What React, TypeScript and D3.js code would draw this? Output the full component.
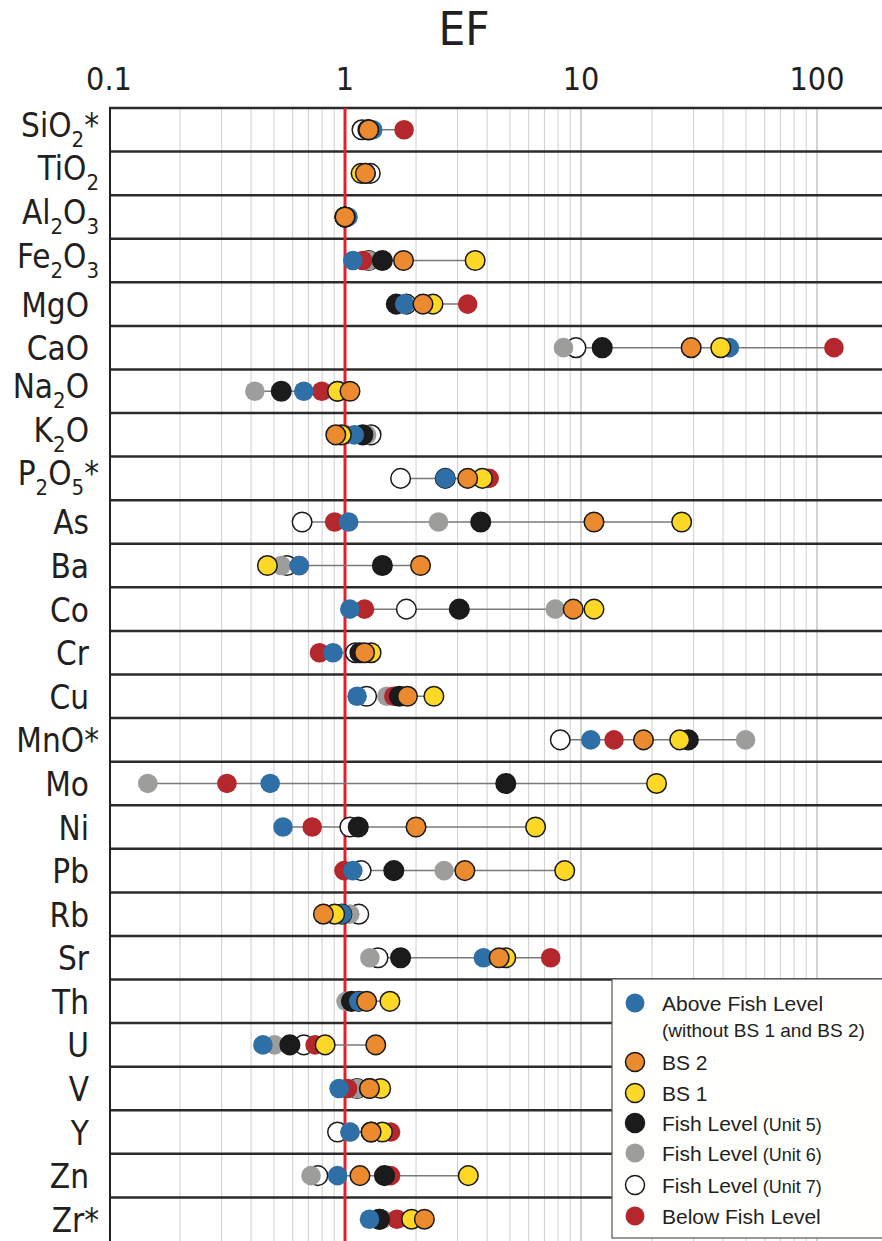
import React, { useEffect, useRef } from 'react'
import * as d3 from 'd3'

// row labels, "_" marks a subscript digit
const elements = ['SiO_2*', 'TiO_2', 'Al_2O_3', 'Fe_2O_3', 'MgO', 'CaO', 'Na_2O', 'K_2O', 'P_2O_5*', 'As', 'Ba', 'Co', 'Cr', 'Cu', 'MnO*', 'Mo', 'Ni', 'Pb', 'Rb', 'Sr', 'Th', 'U', 'V', 'Y', 'Zn', 'Zr*']

const tickLabels = [0.1, 1, 10, 100]

// EF values per group, same order as elements (null = not shown)
const aboveFish = [1.31, 1.22, 1.03, 1.08, 1.79, 42.5, 0.669, 1.095, 2.66, 1.036, 0.64, 1.048, 0.89, 1.125, 11.0, 0.482, 0.546, 1.08, 0.97, 3.86, 1.144, 0.449, 0.944, 1.05, 0.93, 1.27]
const bs2 = [1.26, 1.22, 1.0, 1.77, 2.14, 29.3, 1.05, 0.914, 3.31, 11.35, 2.09, 9.27, 1.21, 1.84, 18.4, null, 2.0, 3.22, 0.81, 4.5, 1.235, 1.35, 1.27, 1.29, 1.157, 2.17]
const bs1 = [1.25, 1.17, 1.0, 3.56, 2.36, 39.1, 0.93, 0.965, 3.82, 26.7, 0.469, 11.35, 1.29, 2.38, 26.2, 20.9, 6.42, 8.53, 0.904, 4.8, 1.55, 0.824, 1.417, 1.44, 3.33, 1.915]
const unit5 = [1.26, 1.22, 1.0, 1.44, 1.65, 12.3, 0.537, 1.19, 2.66, 3.76, 1.44, 3.05, 1.157, 1.7, 28.5, 4.8, 1.138, 1.61, 0.97, 1.72, 1.065, 0.584, 1.27, 1.29, 1.47, 1.4]
const unit6 = [1.26, 1.22, 1.0, 1.26, 1.79, 8.43, 0.415, 1.235, 2.66, 2.49, 0.537, 7.78, 1.21, 1.505, 49.8, 0.146, 1.138, 2.63, 1.048, 1.275, 1.01, 0.503, 1.125, 1.05, 0.718, 1.44]
const unit7 = [1.18, 1.28, 1.0, 1.26, 1.82, 9.52, 0.93, 1.29, 1.72, 0.658, 0.567, 1.82, 1.107, 1.235, 8.17, null, 1.048, 1.17, 1.144, 1.38, 1.144, 0.669, 1.125, 0.93, 0.767, 1.4]
const belowFish = [1.78, 1.22, 1.0, 1.19, 3.31, 118, 0.797, 1.0, 4.08, 0.904, 0.64, 1.21, 0.78, 1.61, 13.8, 0.316, 0.726, 0.99, 0.95, 7.44, 1.1, 0.747, 1.026, 1.56, 1.56, 1.66]

// drawing order bottom -> top
const series = [
     { key: 'unit7', values: unit7, fill: '#ffffff', stroke: '#1a1a1a' },
     { key: 'unit6', values: unit6, fill: '#9d9d9b', stroke: 'none' },
     { key: 'below', values: belowFish, fill: '#b3272d', stroke: 'none' },
     { key: 'unit5', values: unit5, fill: '#1b1b1b', stroke: '#1a1a1a' },
     { key: 'above', values: aboveFish, fill: '#2f6fa7', stroke: 'none' },
     { key: 'bs1', values: bs1, fill: '#fdd827', stroke: '#1a1a1a' },
     { key: 'bs2', values: bs2, fill: '#ec8a2f', stroke: '#1a1a1a' },
]

const legendItems = [
     { main: 'Above Fish Level', sub: '', fill: '#2f6fa7', stroke: 'none' },
     { main: 'BS 2', sub: '', fill: '#ec8a2f', stroke: '#1a1a1a' },
     { main: 'BS 1', sub: '', fill: '#fdd827', stroke: '#1a1a1a' },
     { main: 'Fish Level', sub: '(Unit 5)', fill: '#1b1b1b', stroke: '#1a1a1a' },
     { main: 'Fish Level', sub: '(Unit 6)', fill: '#9d9d9b', stroke: 'none' },
     { main: 'Fish Level', sub: '(Unit 7)', fill: '#ffffff', stroke: '#1a1a1a' },
     { main: 'Below Fish Level', sub: '', fill: '#b3272d', stroke: 'none' },
]

const condensed = "'Liberation Sans Narrow', 'DejaVu Sans Condensed', 'Roboto Condensed', sans-serif"
const regular = "'Liberation Sans', Arial, sans-serif"

const App = () => {
     const svgRef = useRef(null)

     useEffect(() => {
          const width = 882
          const height = 1241
          const top = 108
          const left = 109

          const svg = d3.select(svgRef.current)
          svg.selectAll('*').remove()

          const x = d3.scaleLog().domain([0.1, 100]).range([left, 817])
          const y = d3
               .scaleBand()
               .domain(elements)
               .range([top, height])
               .paddingInner(0)

          svg.append('rect')
               .attr('width', width)
               .attr('height', height)
               .attr('fill', '#fff')

          // grid
          const gridVals = x.copy().domain([0.1, 1000]).ticks()
          svg.append('g')
               .selectAll('line')
               .data(gridVals.filter((d) => d > 0.1))
               .enter()
               .append('line')
               .attr('x1', (d) => x(d))
               .attr('x2', (d) => x(d))
               .attr('y1', top)
               .attr('y2', height)
               .attr('stroke', (d) =>
                    Math.abs(Math.log10(d) - Math.round(Math.log10(d))) < 1e-6
                         ? '#a8a8a8'
                         : '#cfcfcf'
               )
               .attr('stroke-width', 1)

          // row separators
          svg.append('g')
               .selectAll('line')
               .data(elements)
               .enter()
               .append('line')
               .attr('x1', left)
               .attr('x2', width)
               .attr('y1', (d) => y(d))
               .attr('y2', (d) => y(d))
               .attr('stroke', '#2b2b2b')
               .attr('stroke-width', 2.5)

          // left border
          svg.append('line')
               .attr('x1', left + 1)
               .attr('x2', left + 1)
               .attr('y1', top)
               .attr('y2', height)
               .attr('stroke', '#222')
               .attr('stroke-width', 2)

          // EF = 1 line
          svg.append('line')
               .attr('x1', x(1))
               .attr('x2', x(1))
               .attr('y1', top)
               .attr('y2', height)
               .attr('stroke', '#e5202a')
               .attr('stroke-width', 3)

          // connecting lines
          const rows = elements.map((el, i) => {
               const vals = series
                    .map((s) => s.values[i])
                    .filter((v) => v != null)
               return { el, min: d3.min(vals), max: d3.max(vals) }
          })
          svg.append('g')
               .selectAll('line')
               .data(rows)
               .enter()
               .append('line')
               .attr('x1', (d) => x(d.min))
               .attr('x2', (d) => x(d.max))
               .attr('y1', (d) => y(d.el) + y.bandwidth() / 2)
               .attr('y2', (d) => y(d.el) + y.bandwidth() / 2)
               .attr('stroke', '#7a7a7a')
               .attr('stroke-width', 1.5)

          // dots
          series.forEach((s) => {
               svg.append('g')
                    .selectAll('circle')
                    .data(elements.map((el, i) => ({ el, v: s.values[i] })).filter((d) => d.v != null))
                    .enter()
                    .append('circle')
                    .attr('cx', (d) => x(d.v))
                    .attr('cy', (d) => y(d.el) + y.bandwidth() / 2)
                    .attr('r', 9.8)
                    .attr('fill', s.fill)
                    .attr('stroke', s.stroke)
                    .attr('stroke-width', 1.5)
          })

          // row labels
          const labels = svg.append('g')
          elements.forEach((el) => {
               const hasSub = el.includes('_')
               const tail = el.endsWith('*') || /_\d$/.test(el)
               const t = labels
                    .append('text')
                    .attr('x', tail ? 99 : 89)
                    .attr('y', y(el) + y.bandwidth() / 2 + (hasSub ? 7 : 12.5))
                    .attr('text-anchor', 'end')
                    .style('font-family', condensed)
                    .style('font-size', '33px')
                    .style('fill', '#231f20')
               const parts = el.split(/(_\d)/).filter((p) => p.length)
               let lastSub = false
               parts.forEach((p) => {
                    if (p.startsWith('_')) {
                         t.append('tspan')
                              .attr('dy', 10)
                              .style('font-size', '22px')
                              .text(p.slice(1))
                         lastSub = true
                    } else {
                         t.append('tspan')
                              .attr('dy', lastSub ? -10 : 0)
                              .text(p)
                         lastSub = false
                    }
               })
          })

          // axis tick labels
          svg.append('g')
               .selectAll('text')
               .data(tickLabels)
               .enter()
               .append('text')
               .attr('x', (d) => x(d))
               .attr('y', 90)
               .attr('text-anchor', 'middle')
               .style('font-family', condensed)
               .style('font-size', '32px')
               .style('fill', '#231f20')
               .text((d) => String(d))

          svg.append('text')
               .attr('x', 464)
               .attr('y', 45)
               .attr('text-anchor', 'middle')
               .style('font-family', condensed)
               .style('font-size', '47px')
               .style('fill', '#231f20')
               .text('EF')

          // legend
          const lg = svg.append('g')
          lg.append('rect')
               .attr('x', 612)
               .attr('y', 979)
               .attr('width', 300)
               .attr('height', 259)
               .attr('fill', '#fefefd')
               .attr('stroke', '#555')
               .attr('stroke-width', 1.2)
          const legendY = [1003, 1062, 1093, 1123, 1153, 1185, 1216]
          legendItems.forEach((item, i) => {
               lg.append('circle')
                    .attr('cx', 635)
                    .attr('cy', legendY[i])
                    .attr('r', 9.5)
                    .attr('fill', item.fill)
                    .attr('stroke', item.stroke)
                    .attr('stroke-width', 1.5)
               const t = lg
                    .append('text')
                    .attr('x', 662)
                    .attr('y', legendY[i] + 7.5)
                    .style('font-family', regular)
                    .style('font-size', '21px')
                    .style('fill', '#231f20')
               t.append('tspan').text(item.main)
               if (item.sub) {
                    t.append('tspan')
                         .style('font-size', '18px')
                         .text(' ' + item.sub)
               }
          })
          lg.append('text')
               .attr('x', 662)
               .attr('y', 1037)
               .style('font-family', regular)
               .style('font-size', '19px')
               .style('fill', '#231f20')
               .text('(without BS 1 and BS 2)')
     }, [])

     return (
          <svg
               ref={svgRef}
               width={882}
               height={1241}
               style={{ position: 'absolute', left: 0, top: 0, display: 'block' }}
          ></svg>
     )
}

export default App
